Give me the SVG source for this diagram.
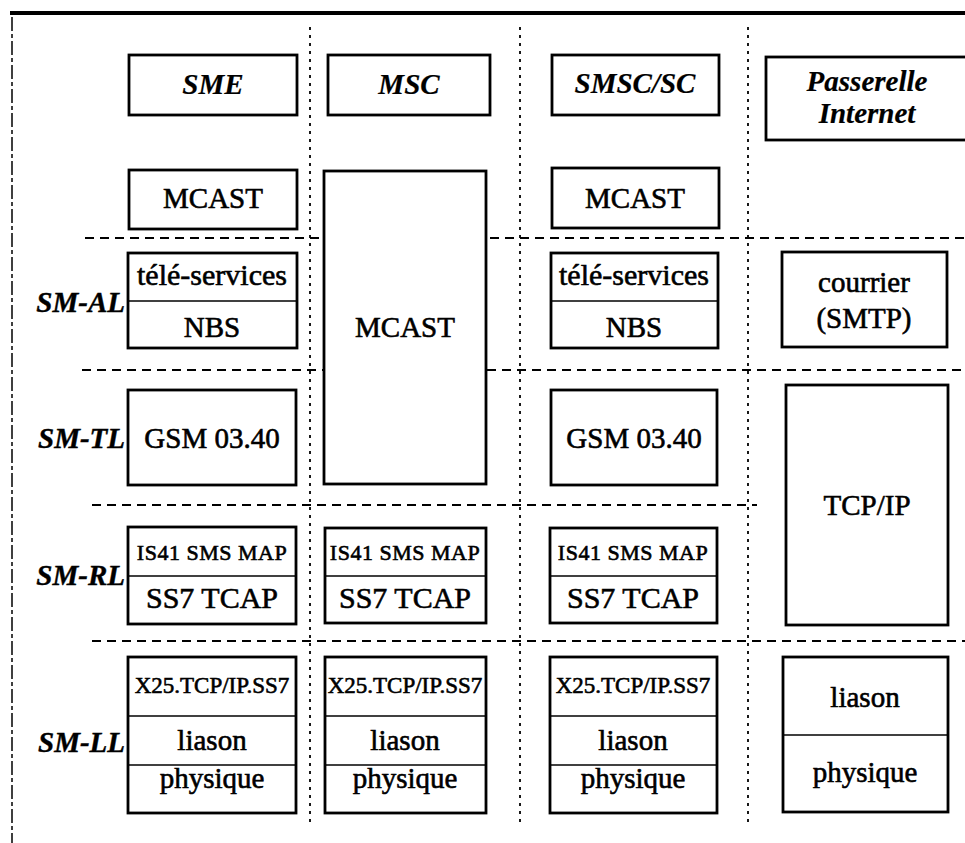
<svg xmlns="http://www.w3.org/2000/svg" width="965" height="843" viewBox="0 0 965 843">
<style>
.box{fill:#fff;stroke:#000;stroke-width:2.8}
.dv{stroke:#000;stroke-width:1.6}
.t{font-family:"Liberation Serif","Times New Roman",serif;font-size:29px;text-anchor:middle;fill:#000;stroke:#000;stroke-width:0.6}
.bi{font-weight:bold;font-style:italic;stroke-width:0.2}
.lab{font-family:"Liberation Serif","Times New Roman",serif;font-size:29px;font-weight:bold;font-style:italic;text-anchor:end;fill:#000;stroke:#000;stroke-width:0.4}
.s22{font-size:22px}
.s23{font-size:23px}
.s30{font-size:30px}
.h{stroke:#000;stroke-width:2;stroke-dasharray:9 6;fill:none}
.v{stroke:#000;stroke-width:1.8;stroke-dasharray:3 5;fill:none}
</style>
<g id="grid">
<line x1="10" y1="13" x2="965" y2="13" stroke="#000" stroke-width="4"/>
<line x1="12" y1="17" x2="12" y2="843" stroke="#000" stroke-width="1.5" stroke-dasharray="14 3 4 3"/>
<line class="v" x1="310" y1="27" x2="310" y2="822"/>
<line class="v" x1="520" y1="27" x2="520" y2="822"/>
<line class="v" x1="748" y1="27" x2="748" y2="822"/>
<line class="h" x1="85" y1="238" x2="965" y2="238"/>
<line class="h" x1="82" y1="370" x2="965" y2="370"/>
<line class="h" x1="92" y1="505" x2="757" y2="505"/>
<line class="h" x1="92" y1="641" x2="965" y2="641"/>
</g>
<g id="labels">
<text class="lab" x="125" y="312">SM-AL</text>
<text class="lab" x="125" y="448">SM-TL</text>
<text class="lab" x="125" y="585">SM-RL</text>
<text class="lab" x="125" y="752">SM-LL</text>
</g>
<g id="sme">
<rect class="box" x="129" y="55" width="168" height="60"/>
<text class="t bi" x="213" y="94">SME</text>
</g>
<g id="msc">
<rect class="box" x="328" y="55" width="162" height="60"/>
<text class="t bi" x="409" y="94">MSC</text>
</g>
<g id="smsc">
<rect class="box" x="552" y="55" width="167" height="60"/>
<text class="t bi" x="635" y="93">SMSC/SC</text>
</g>
<g id="passerelle">
<rect class="box" x="766" y="57" width="202" height="83"/>
<text class="t bi" x="867" y="91">Passerelle</text>
<text class="t bi" x="867" y="123">Internet</text>
</g>
<g id="mcast-sme">
<rect class="box" x="129" y="170" width="168" height="59"/>
<text class="t" x="213" y="208">MCAST</text>
</g>
<g id="mcast-msc">
<rect class="box" x="324" y="171" width="162" height="313"/>
<text class="t" x="405" y="337">MCAST</text>
</g>
<g id="mcast-smsc">
<rect class="box" x="552" y="168" width="167" height="60"/>
<text class="t" x="635" y="208">MCAST</text>
</g>
<g id="al-sme">
<rect class="box" x="128" y="253" width="169" height="95"/>
<line class="dv" x1="128" y1="301" x2="297" y2="301"/>
<text class="t s30" x="212" y="285">télé-services</text>
<text class="t" x="212" y="337">NBS</text>
</g>
<g id="al-smsc">
<rect class="box" x="551" y="253" width="167" height="95"/>
<line class="dv" x1="551" y1="301" x2="718" y2="301"/>
<text class="t s30" x="634" y="285">télé-services</text>
<text class="t" x="634" y="337">NBS</text>
</g>
<g id="courrier">
<rect class="box" x="782" y="252" width="165" height="95"/>
<text class="t" x="864" y="292">courrier</text>
<text class="t" x="864" y="328">(SMTP)</text>
</g>
<g id="tl-sme">
<rect class="box" x="128" y="390" width="168" height="95"/>
<text class="t" x="212" y="448">GSM 03.40</text>
</g>
<g id="tl-smsc">
<rect class="box" x="551" y="390" width="166" height="95"/>
<text class="t" x="634" y="448">GSM 03.40</text>
</g>
<g id="tcpip">
<rect class="box" x="786" y="385" width="162" height="240"/>
<text class="t" x="867" y="515">TCP/IP</text>
</g>
<g id="rl-sme">
<rect class="box" x="128" y="527" width="168" height="97"/>
<line class="dv" x1="128" y1="576" x2="296" y2="576"/>
<text class="t s22" x="212" y="560" letter-spacing="0.5">IS41 SMS MAP</text>
<text class="t s30" x="212" y="608">SS7 TCAP</text>
</g>
<g id="rl-msc">
<rect class="box" x="325" y="528" width="161" height="95"/>
<line class="dv" x1="325" y1="576" x2="486" y2="576"/>
<text class="t s22" x="405" y="560" letter-spacing="0.5">IS41 SMS MAP</text>
<text class="t s30" x="405" y="608">SS7 TCAP</text>
</g>
<g id="rl-smsc">
<rect class="box" x="550" y="528" width="167" height="95"/>
<line class="dv" x1="550" y1="576" x2="717" y2="576"/>
<text class="t s22" x="633" y="560" letter-spacing="0.5">IS41 SMS MAP</text>
<text class="t s30" x="633" y="608">SS7 TCAP</text>
</g>
<g id="ll-sme">
<rect class="box" x="128" y="657" width="168" height="156"/>
<line class="dv" x1="128" y1="716" x2="296" y2="716"/>
<line class="dv" x1="128" y1="765" x2="296" y2="765"/>
<text class="t s23" x="212" y="693">X25.TCP/IP.SS7</text>
<text class="t" x="212" y="750">liason</text>
<text class="t" x="212" y="788">physique</text>
</g>
<g id="ll-msc">
<rect class="box" x="325" y="657" width="161" height="156"/>
<line class="dv" x1="325" y1="716" x2="486" y2="716"/>
<line class="dv" x1="325" y1="765" x2="486" y2="765"/>
<text class="t s23" x="405" y="693">X25.TCP/IP.SS7</text>
<text class="t" x="405" y="750">liason</text>
<text class="t" x="405" y="788">physique</text>
</g>
<g id="ll-smsc">
<rect class="box" x="550" y="657" width="167" height="156"/>
<line class="dv" x1="550" y1="716" x2="717" y2="716"/>
<line class="dv" x1="550" y1="765" x2="717" y2="765"/>
<text class="t s23" x="633" y="693">X25.TCP/IP.SS7</text>
<text class="t" x="633" y="750">liason</text>
<text class="t" x="633" y="788">physique</text>
</g>
<g id="ll-internet">
<rect class="box" x="783" y="657" width="165" height="155"/>
<line class="dv" x1="783" y1="735" x2="948" y2="735"/>
<text class="t" x="865" y="707">liason</text>
<text class="t" x="865" y="782">physique</text>
</g>
</svg>
